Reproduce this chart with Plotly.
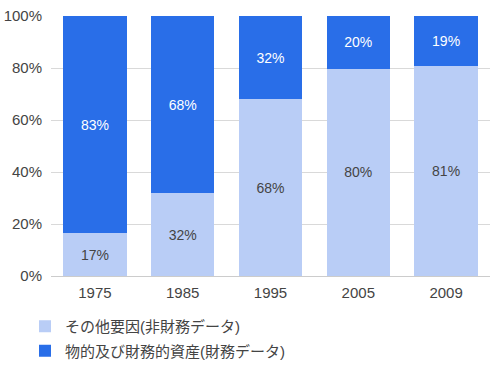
import plotly.graph_objects as go

years = ["1975", "1985", "1995", "2005", "2009"]
other_vals = [16.4, 31.8, 68.0, 79.8, 80.8]
other_labels = ["17%", "32%", "68%", "80%", "81%"]
asset_vals = [83.6, 68.2, 32.0, 20.2, 19.2]
asset_labels = ["83%", "68%", "32%", "20%", "19%"]
y_ticks = [0, 20, 40, 60, 80, 100]
y_tick_text = ["0%", "20%", "40%", "60%", "80%", "100%"]

name_other = "その他要因(非財務データ)"
name_asset = "物的及び財務的資産(財務データ)"

FONT = "Liberation Sans, Noto Sans CJK JP, sans-serif"
W, H = 503, 380

fig = go.Figure()
fig.add_trace(go.Bar(
    x=years, y=other_vals, name=name_other, text=other_labels,
    textposition="inside", insidetextanchor="middle", textangle=0,
    textfont=dict(color="#444444", size=14, family=FONT),
    marker=dict(color="#b9cdf6", line=dict(width=0)),
    legendgroup="a", hoverinfo="skip",
))
fig.add_trace(go.Bar(
    x=years, y=asset_vals, name=name_asset, text=asset_labels,
    textposition="inside", insidetextanchor="middle", textangle=0,
    textfont=dict(color="#ffffff", size=14, family=FONT),
    marker=dict(color="#296ee8", line=dict(width=0)),
    legendgroup="b", hoverinfo="skip",
))

fig.update_layout(
    template="none",
    width=W, height=H,
    barmode="stack", bargap=0.28,
    margin=dict(l=0, r=0, t=0, b=0),
    paper_bgcolor="white", plot_bgcolor="white",
    font=dict(family=FONT, size=15, color="#444444"),
    showlegend=True,
    legend=dict(
        orientation="v", x=25 / W, xanchor="left",
        y=(H - 310) / H, yanchor="top",
        traceorder="grouped", tracegroupgap=2,
        font=dict(size=15, color="#444444", family=FONT),
        itemwidth=30, bgcolor="rgba(0,0,0,0)",
    ),
)
fig.update_yaxes(
    domain=[104 / H, 364 / H],
    range=[0, 100], tickvals=y_ticks, ticktext=y_tick_text,
    showgrid=True, gridcolor="#d9d9d9", gridwidth=1,
    zeroline=True, zerolinecolor="#cccccc", zerolinewidth=1,
    showline=False, ticks="", ticklabelstandoff=8, automargin=False,
    tickfont=dict(size=15, color="#444444", family=FONT),
)
fig.update_xaxes(
    type="category",
    domain=[51 / W, 490 / W],
    showgrid=False, ticks="", showline=False, zeroline=False, automargin=False,
    tickangle=0, ticklabelstandoff=6,
    tickfont=dict(size=15, color="#444444", family=FONT),
)

fig.write_html(
    "out.html",
    config={"displayModeBar": False},
    post_script="document.body.style.margin='0px';document.body.style.padding='0px';",
)
